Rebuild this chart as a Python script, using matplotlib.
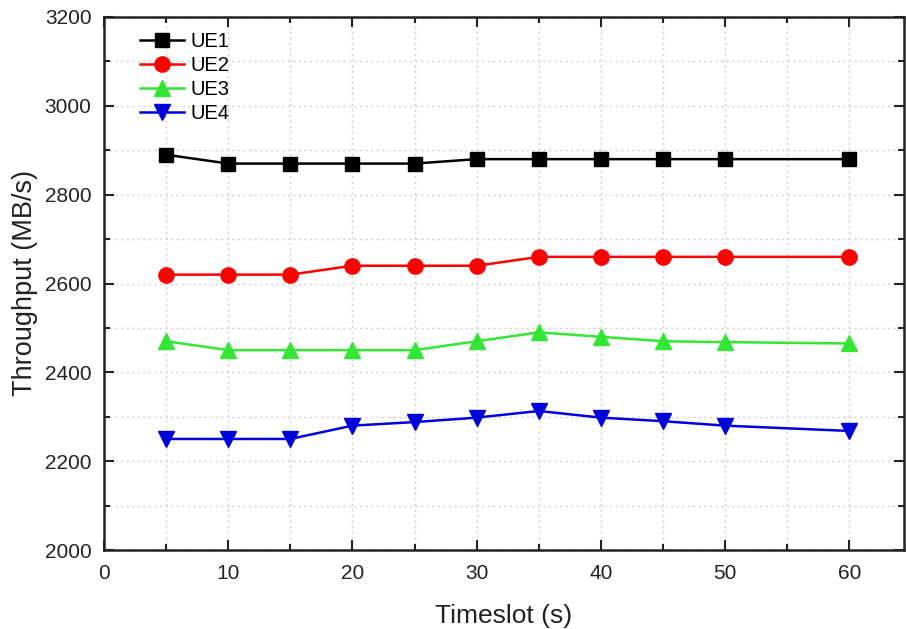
import matplotlib
matplotlib.use("Agg")
import matplotlib.pyplot as plt
from matplotlib.ticker import MultipleLocator

plt.rcParams['font.family'] = ['Liberation Sans', 'DejaVu Sans']

timeslots = [5, 10, 15, 20, 25, 30, 35, 40, 45, 50, 60]
ue1 = [2890, 2870, 2870, 2870, 2870, 2880, 2880, 2880, 2880, 2880, 2880]
ue2 = [2620, 2620, 2620, 2640, 2640, 2640, 2660, 2660, 2660, 2660, 2660]
ue3 = [2470, 2450, 2450, 2450, 2450, 2470, 2490, 2480, 2470, 2468, 2465]
ue4 = [2250, 2250, 2250, 2280, 2288, 2298, 2313, 2298, 2290, 2280, 2268]
labels = ["UE1", "UE2", "UE3", "UE4"]

fig = plt.figure(figsize=(9.07, 6.29), dpi=100)
ax = fig.add_axes([104/907, 79/629, 800/907, 533/629])

styles = [("black", "s", 10), ("red", "o", 11), ("#33e633", "^", 11), ("#0000dd", "v", 11)]
for ys, lab, (c, m, ms) in zip([ue1, ue2, ue3, ue4], labels, styles):
    ax.plot(timeslots, ys, color=c, marker=m, markersize=ms, linewidth=1.8, label=lab)

ax.set_xlim(0, 64.4)
ax.set_ylim(2000, 3200)
ax.xaxis.set_major_locator(MultipleLocator(10))
ax.xaxis.set_minor_locator(MultipleLocator(5))
ax.yaxis.set_major_locator(MultipleLocator(200))
ax.yaxis.set_minor_locator(MultipleLocator(100))
ax.grid(which='both', color='#d0d0d0', linestyle=(0, (1.5, 2.5)), linewidth=1)
ax.set_axisbelow(True)
ax.tick_params(which='both', direction='in', top=True, right=True, width=1.5,
               labelsize=15, colors='#222222')
ax.tick_params(which='major', length=7)
ax.tick_params(which='minor', length=4)
ax.tick_params(axis='x', which='major', pad=10)
ax.tick_params(axis='y', which='major', pad=9)
for s in ax.spines.values():
    s.set_linewidth(1.8)
    s.set_color('#222222')

ax.set_xlabel("Timeslot (s)", fontsize=19, labelpad=15, color='#222222')
ax.set_ylabel("Throughput (MB/s)", fontsize=19.5, labelpad=5, color='#222222')

ax.legend(loc='upper left', frameon=False, fontsize=14.5, handlelength=2.2,
          handletextpad=0.3, labelspacing=0.26, borderaxespad=0.2,
          bbox_to_anchor=(0.03, 0.995))

fig.savefig("out.png", dpi=100)
